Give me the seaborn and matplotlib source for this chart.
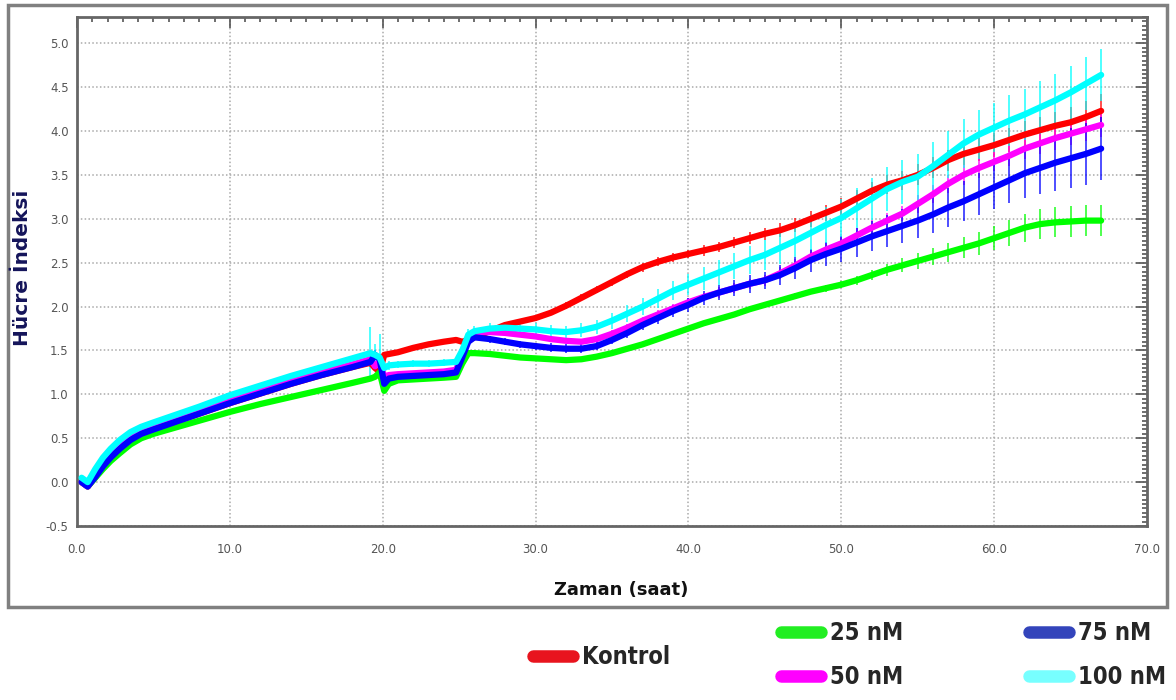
import matplotlib
matplotlib.use("Agg")
import matplotlib.pyplot as plt
import seaborn as sns
import pandas as pd
from matplotlib.ticker import MultipleLocator, FormatStrFormatter
from matplotlib.lines import Line2D
from matplotlib.patches import Rectangle

# ---------------- data ----------------
hours = [0.3, 0.7, 1.2, 1.7, 2.2, 2.8, 3.5, 4.2, 5, 6, 7, 8, 10, 12, 14, 16, 18,
         19.2, 19.5, 19.8, 20.1, 20.4, 21, 22, 23, 24, 24.8, 25.2, 25.6,
         26, 27, 28, 29, 30, 31, 32, 33, 34, 35, 36, 37, 38, 39, 40, 41, 42, 43,
         44, 45, 46, 47, 48, 49, 50, 51, 52, 53, 54, 55, 56, 57, 58, 59, 60, 61,
         62, 63, 64, 65, 66, 67]

groups = ["Kontrol", "25 nM", "50 nM", "75 nM", "100 nM"]

kontrol = [0.0, -0.05, 0.06, 0.18, 0.28, 0.38, 0.48, 0.55, 0.6, 0.66, 0.72, 0.78, 0.9,
           1.01, 1.12, 1.22, 1.31, 1.36, 1.3, 1.26, 1.45, 1.46, 1.48, 1.53, 1.57, 1.6,
           1.62, 1.6, 1.62,
           1.65, 1.72, 1.79, 1.83, 1.87, 1.93, 2.01, 2.1, 2.19, 2.28, 2.37, 2.45, 2.51,
           2.56, 2.6, 2.64, 2.68, 2.73, 2.78, 2.83, 2.87, 2.93, 3.0, 3.07, 3.14, 3.23,
           3.32, 3.39, 3.44, 3.5, 3.58, 3.67, 3.74, 3.79, 3.84, 3.9, 3.96, 4.01, 4.06,
           4.1, 4.16, 4.23]
nm25 = [0.0, -0.05, 0.05, 0.15, 0.24, 0.33, 0.43, 0.5, 0.55, 0.6, 0.65, 0.7, 0.8,
        0.89, 0.97, 1.05, 1.13, 1.18, 1.2, 1.25, 1.04, 1.12, 1.16, 1.17, 1.18, 1.19,
        1.2, 1.35, 1.47,
        1.47, 1.46, 1.44, 1.42, 1.41, 1.4, 1.39, 1.4, 1.43, 1.47, 1.52, 1.57, 1.63,
        1.69, 1.75, 1.81, 1.86, 1.91, 1.97, 2.02, 2.07, 2.12, 2.17, 2.21, 2.25, 2.3,
        2.36, 2.42, 2.47, 2.52, 2.57, 2.62, 2.67, 2.72, 2.78, 2.84, 2.9, 2.94, 2.96,
        2.97, 2.98, 2.98]
nm50 = [0.0, -0.05, 0.08, 0.2, 0.3, 0.4, 0.5, 0.57, 0.62, 0.68, 0.74, 0.8, 0.93,
        1.04, 1.15, 1.25, 1.34, 1.4, 1.32, 1.38, 1.2, 1.22, 1.23, 1.24, 1.25, 1.26,
        1.28, 1.45, 1.65,
        1.71, 1.71, 1.7, 1.68, 1.66, 1.63, 1.61, 1.6, 1.63, 1.69, 1.76, 1.84, 1.91,
        1.98, 2.05, 2.11, 2.16, 2.21, 2.26, 2.3, 2.38, 2.47, 2.57, 2.65, 2.72, 2.81,
        2.9, 2.98, 3.06, 3.17, 3.28, 3.4, 3.5, 3.58, 3.65, 3.72, 3.8, 3.86, 3.92,
        3.97, 4.02, 4.07]
nm75 = [0.0, -0.05, 0.06, 0.18, 0.28, 0.38, 0.48, 0.55, 0.6, 0.66, 0.72, 0.78, 0.9,
        1.01, 1.12, 1.22, 1.31, 1.37, 1.45, 1.4, 1.12, 1.18, 1.2, 1.21, 1.22, 1.23,
        1.25, 1.42, 1.6,
        1.65, 1.63, 1.6, 1.57, 1.55, 1.53, 1.52, 1.52, 1.55, 1.62, 1.7, 1.79, 1.87,
        1.95, 2.02, 2.1, 2.16, 2.21, 2.26, 2.3, 2.36, 2.44, 2.53, 2.6, 2.66, 2.73,
        2.8, 2.86, 2.92, 2.98, 3.05, 3.13, 3.2, 3.28, 3.36, 3.44, 3.52, 3.58, 3.64,
        3.69, 3.74, 3.8]
nm100 = [0.05, 0.0, 0.15, 0.28, 0.38, 0.48, 0.57, 0.63, 0.68, 0.74, 0.8, 0.86, 0.99,
         1.1, 1.21, 1.31, 1.41, 1.47, 1.45, 1.42, 1.3, 1.33, 1.34, 1.35, 1.35, 1.36,
         1.37, 1.5, 1.68,
         1.72, 1.75, 1.76, 1.75, 1.74, 1.72, 1.71, 1.73, 1.77, 1.84, 1.92, 2.0, 2.09,
         2.18, 2.25, 2.32, 2.39, 2.46, 2.53, 2.59, 2.67, 2.75, 2.84, 2.93, 3.01, 3.12,
         3.23, 3.34, 3.42, 3.48, 3.6, 3.73, 3.86, 3.96, 4.04, 4.12, 4.19, 4.27, 4.35,
         4.44, 4.54, 4.64]

err_kontrol = [0.02, 0.02, 0.02, 0.02, 0.02, 0.02, 0.02, 0.02, 0.02, 0.02,
               0.02, 0.02, 0.02, 0.02, 0.02, 0.02, 0.02, 0.03, 0.03, 0.03, 0.02, 0.02,
               0.02, 0.02, 0.02, 0.02, 0.02, 0.03, 0.03,
               0.03, 0.03, 0.03, 0.03, 0.03, 0.03, 0.04, 0.04, 0.04, 0.04, 0.04, 0.05,
               0.05, 0.05, 0.05, 0.06, 0.06, 0.06, 0.07, 0.07, 0.08, 0.08, 0.09, 0.09,
               0.1, 0.1, 0.1, 0.11, 0.11, 0.12, 0.12, 0.12, 0.13, 0.13, 0.14, 0.14,
               0.15, 0.15, 0.16, 0.17, 0.18, 0.19]
err_25 = [0.02, 0.02, 0.02, 0.02, 0.02, 0.02, 0.02, 0.02, 0.02, 0.02, 0.02, 0.02, 0.02,
          0.02, 0.02, 0.02, 0.02, 0.02, 0.02, 0.02, 0.03, 0.03, 0.02, 0.02, 0.02, 0.02,
          0.02, 0.03, 0.03,
          0.03, 0.03, 0.03, 0.03, 0.03, 0.03, 0.03, 0.03, 0.03, 0.03, 0.03, 0.03, 0.03,
          0.03, 0.03, 0.03, 0.03, 0.03, 0.03, 0.03, 0.03, 0.03, 0.03, 0.04, 0.04, 0.05,
          0.06, 0.07, 0.08, 0.09, 0.1, 0.11, 0.12, 0.13, 0.14, 0.15, 0.16, 0.17, 0.17,
          0.18, 0.18, 0.18]
err_50 = [0.02, 0.02, 0.02, 0.02, 0.02, 0.02, 0.02, 0.02, 0.02, 0.02, 0.02, 0.02, 0.02,
          0.02, 0.02, 0.02, 0.02, 0.05, 0.05, 0.05, 0.03, 0.03, 0.02, 0.02, 0.02, 0.02,
          0.02, 0.03, 0.03,
          0.03, 0.03, 0.03, 0.03, 0.03, 0.03, 0.03, 0.03, 0.04, 0.04, 0.04, 0.04, 0.05,
          0.05, 0.05, 0.05, 0.06, 0.06, 0.06, 0.06, 0.07, 0.07, 0.07, 0.08, 0.08, 0.08,
          0.09, 0.09, 0.09, 0.1, 0.1, 0.1, 0.11, 0.11, 0.11, 0.12, 0.12, 0.12, 0.13,
          0.13, 0.13, 0.14]
err_75 = [0.02, 0.02, 0.02, 0.02, 0.02, 0.02, 0.02, 0.02, 0.02, 0.02, 0.02, 0.02, 0.02,
          0.02, 0.02, 0.02, 0.02, 0.06, 0.06, 0.06, 0.03, 0.03, 0.02, 0.02, 0.02, 0.02,
          0.02, 0.03, 0.03,
          0.04, 0.04, 0.04, 0.04, 0.04, 0.05, 0.05, 0.05, 0.05, 0.05, 0.06, 0.06, 0.07,
          0.07, 0.08, 0.08, 0.09, 0.09, 0.1, 0.1, 0.11, 0.12, 0.13, 0.14, 0.15, 0.16,
          0.17, 0.18, 0.19, 0.2, 0.21, 0.22, 0.23, 0.24, 0.25, 0.26, 0.28, 0.3, 0.32,
          0.34, 0.35, 0.36]
err_100 = [0.02, 0.02, 0.02, 0.02, 0.02, 0.02, 0.02, 0.02, 0.02, 0.02, 0.02, 0.02, 0.02,
           0.02, 0.02, 0.02, 0.03, 0.3, 0.12, 0.27, 0.05, 0.05, 0.04, 0.04, 0.04, 0.04,
           0.04, 0.05, 0.06,
           0.06, 0.06, 0.06, 0.06, 0.07, 0.07, 0.07, 0.08, 0.08, 0.09, 0.1, 0.1, 0.11,
           0.11, 0.12, 0.13, 0.14, 0.15, 0.16, 0.17, 0.18, 0.19, 0.2, 0.21, 0.22, 0.23,
           0.24, 0.25, 0.25, 0.26, 0.27, 0.27, 0.28, 0.28, 0.28, 0.29, 0.29, 0.3, 0.3,
           0.3, 0.3, 0.3]

x_ticks = [0, 10, 20, 30, 40, 50, 60, 70]
y_ticks = [-0.5, 0.0, 0.5, 1.0, 1.5, 2.0, 2.5, 3.0, 3.5, 4.0, 4.5, 5.0]

line_colors = ["#ff0000", "#00ff00", "#ff00ff", "#0000ff", "#00ffff"]
legend_colors = ["#e8141e", "#22ee22", "#ff00ff", "#3344bb", "#77ffff"]

# ---------------- build table ----------------
values = [kontrol, nm25, nm50, nm75, nm100]
errors = [err_kontrol, err_25, err_50, err_75, err_100]
rows = []
for g, v, e in zip(groups, values, errors):
    for h, y, er in zip(hours, v, e):
        rows.append({"Zaman": h, "HI": y, "err": er, "Grup": g})
df = pd.DataFrame(rows)

# ---------------- figure ----------------
sns.set_theme(style="white")
plt.rcParams["font.family"] = ["DejaVu Sans"]

fig = plt.figure(figsize=(11.76, 7.0), dpi=100)
fig.patch.set_facecolor("white")

# outer frame
fig.add_artist(Rectangle((8 / 1176, 1 - 607 / 700), 1159 / 1176, 602 / 700,
                         transform=fig.transFigure, fill=False,
                         edgecolor="#808080", linewidth=2.5, zorder=0))

ax = fig.add_axes([77 / 1176, 1 - 526 / 700, 1070 / 1176, 509 / 700])
ax.set_facecolor("white")

# error bars first (behind the lines)
for g, c in zip(groups, line_colors):
    sub = df[df["Grup"] == g]
    ax.errorbar(sub["Zaman"], sub["HI"], yerr=sub["err"], fmt="none",
                ecolor=c, elinewidth=1.3, capsize=0, alpha=0.75, zorder=2)

sns.lineplot(data=df, x="Zaman", y="HI", hue="Grup", hue_order=groups,
             palette=dict(zip(groups, line_colors)), estimator=None, sort=False,
             linewidth=4.5, legend=False, ax=ax, zorder=3)

ax.set_xlim(0, 70)
ax.set_ylim(-0.5, 5.3)
ax.set_xticks(x_ticks)
ax.set_yticks(y_ticks)
ax.xaxis.set_major_formatter(FormatStrFormatter("%.1f"))
ax.yaxis.set_major_formatter(FormatStrFormatter("%.1f"))
ax.xaxis.set_minor_locator(MultipleLocator(1))
ax.yaxis.set_minor_locator(MultipleLocator(0.05))

ax.grid(True, which="major", color="#aaaaaa", linestyle=(0, (1, 1.5)), linewidth=1.1)
ax.tick_params(which="both", direction="in", top=True, right=True,
               colors="#555555", labelcolor="#555555", labelsize=8.5, width=1.2)
ax.tick_params(which="major", length=8, pad=12)
ax.tick_params(which="minor", length=3.5)
ax.tick_params(axis="y", which="major", pad=6)

for s in ax.spines.values():
    s.set_color("#666666")
    s.set_linewidth(2)
    s.set_visible(True)

ax.set_xlabel("")
ax.set_ylabel("")
fig.text(621 / 1176, 1 - 590 / 700, "Zaman (saat)", ha="center", va="center",
         fontsize=13, fontweight="bold", color="#111111")
fig.text(23 / 1176, 1 - 268 / 700, "Hücre İndeksi", ha="center", va="center",
         rotation=90, fontsize=14.5, fontweight="bold", color="#14145a")

# legends
def handle(c):
    return Line2D([0], [0], color=c, linewidth=9, solid_capstyle="round")

legend_font = {"weight": "bold", "size": 17, "stretch": "condensed"}
fig.legend(handles=[handle(legend_colors[0])], labels=[groups[0]],
           loc="center left", bbox_to_anchor=(512 / 1176, 1 - 657 / 700),
           frameon=False, handlelength=1.7, handletextpad=0.35, prop=legend_font)
fig.legend(handles=[handle(c) for c in legend_colors[1:]], labels=groups[1:],
           loc="center left", bbox_to_anchor=(760 / 1176, 1 - 655 / 700),
           ncol=2, frameon=False, handlelength=1.7, handletextpad=0.35,
           columnspacing=5.35, labelspacing=0.85, prop=legend_font)

fig.savefig("out.png", dpi=100, facecolor="white")
